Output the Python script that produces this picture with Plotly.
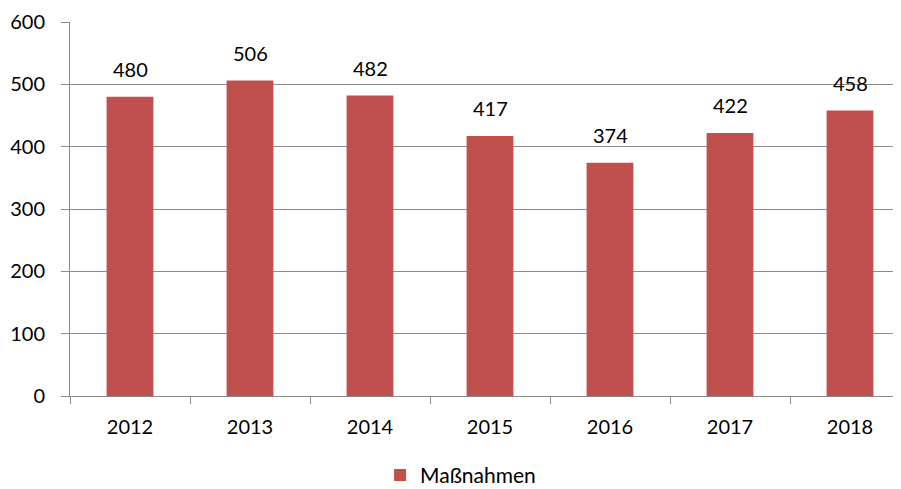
import plotly.graph_objects as go

years = ["2012", "2013", "2014", "2015", "2016", "2017", "2018"]
massnahmen = [480, 506, 482, 417, 374, 422, 458]
series_name = "Maßnahmen"

bar_color = "#C0504D"
grid_color = "#8C8C8C"
font_family = "Lato, 'Open Sans', sans-serif"

fig = go.Figure()
fig.add_trace(go.Bar(
    x=years, y=massnahmen, name=series_name,
    marker=dict(color=bar_color, line=dict(width=0)),
    hoverinfo="x+y",
))

for i, v in enumerate(massnahmen):
    fig.add_annotation(x=i, y=v, xref="x", yref="y", text=str(v), showarrow=False,
                       yanchor="bottom", yshift=14,
                       font=dict(size=20, color="#000000", family=font_family))

# page body has an 8px margin; compensate so the plot lands where the reference has it
fig.update_layout(
    width=893, height=481,
    margin=dict(l=62, r=0, t=14, b=93, autoexpand=False),
    paper_bgcolor="white", plot_bgcolor="white",
    bargap=0.61,
    font=dict(family=font_family, size=20, color="#000000"),
    showlegend=True,
    legend=dict(orientation="h", x=0.47, xanchor="center", y=-0.212, yanchor="middle",
                font=dict(size=21), itemwidth=30),
    xaxis=dict(
        type="category",
        range=[-0.5, 6.425],
        automargin=False,
        showline=True, linecolor=grid_color, linewidth=1,
        ticks="outside", ticklen=7, tickcolor=grid_color, tickwidth=1,
        tickson="boundaries",
        showgrid=False,
        ticklabelstandoff=13,
        tickfont=dict(size=20),
    ),
    yaxis=dict(
        range=[0, 600], dtick=100, tick0=0,
        automargin=False,
        showline=True, linecolor=grid_color, linewidth=1,
        ticks="outside", ticklen=8, tickcolor=grid_color, tickwidth=1,
        showgrid=True, gridcolor=grid_color, gridwidth=1,
        zeroline=False,
        ticklabelstandoff=12,
        tickfont=dict(size=20),
    ),
)

fig.write_html("out.html")
